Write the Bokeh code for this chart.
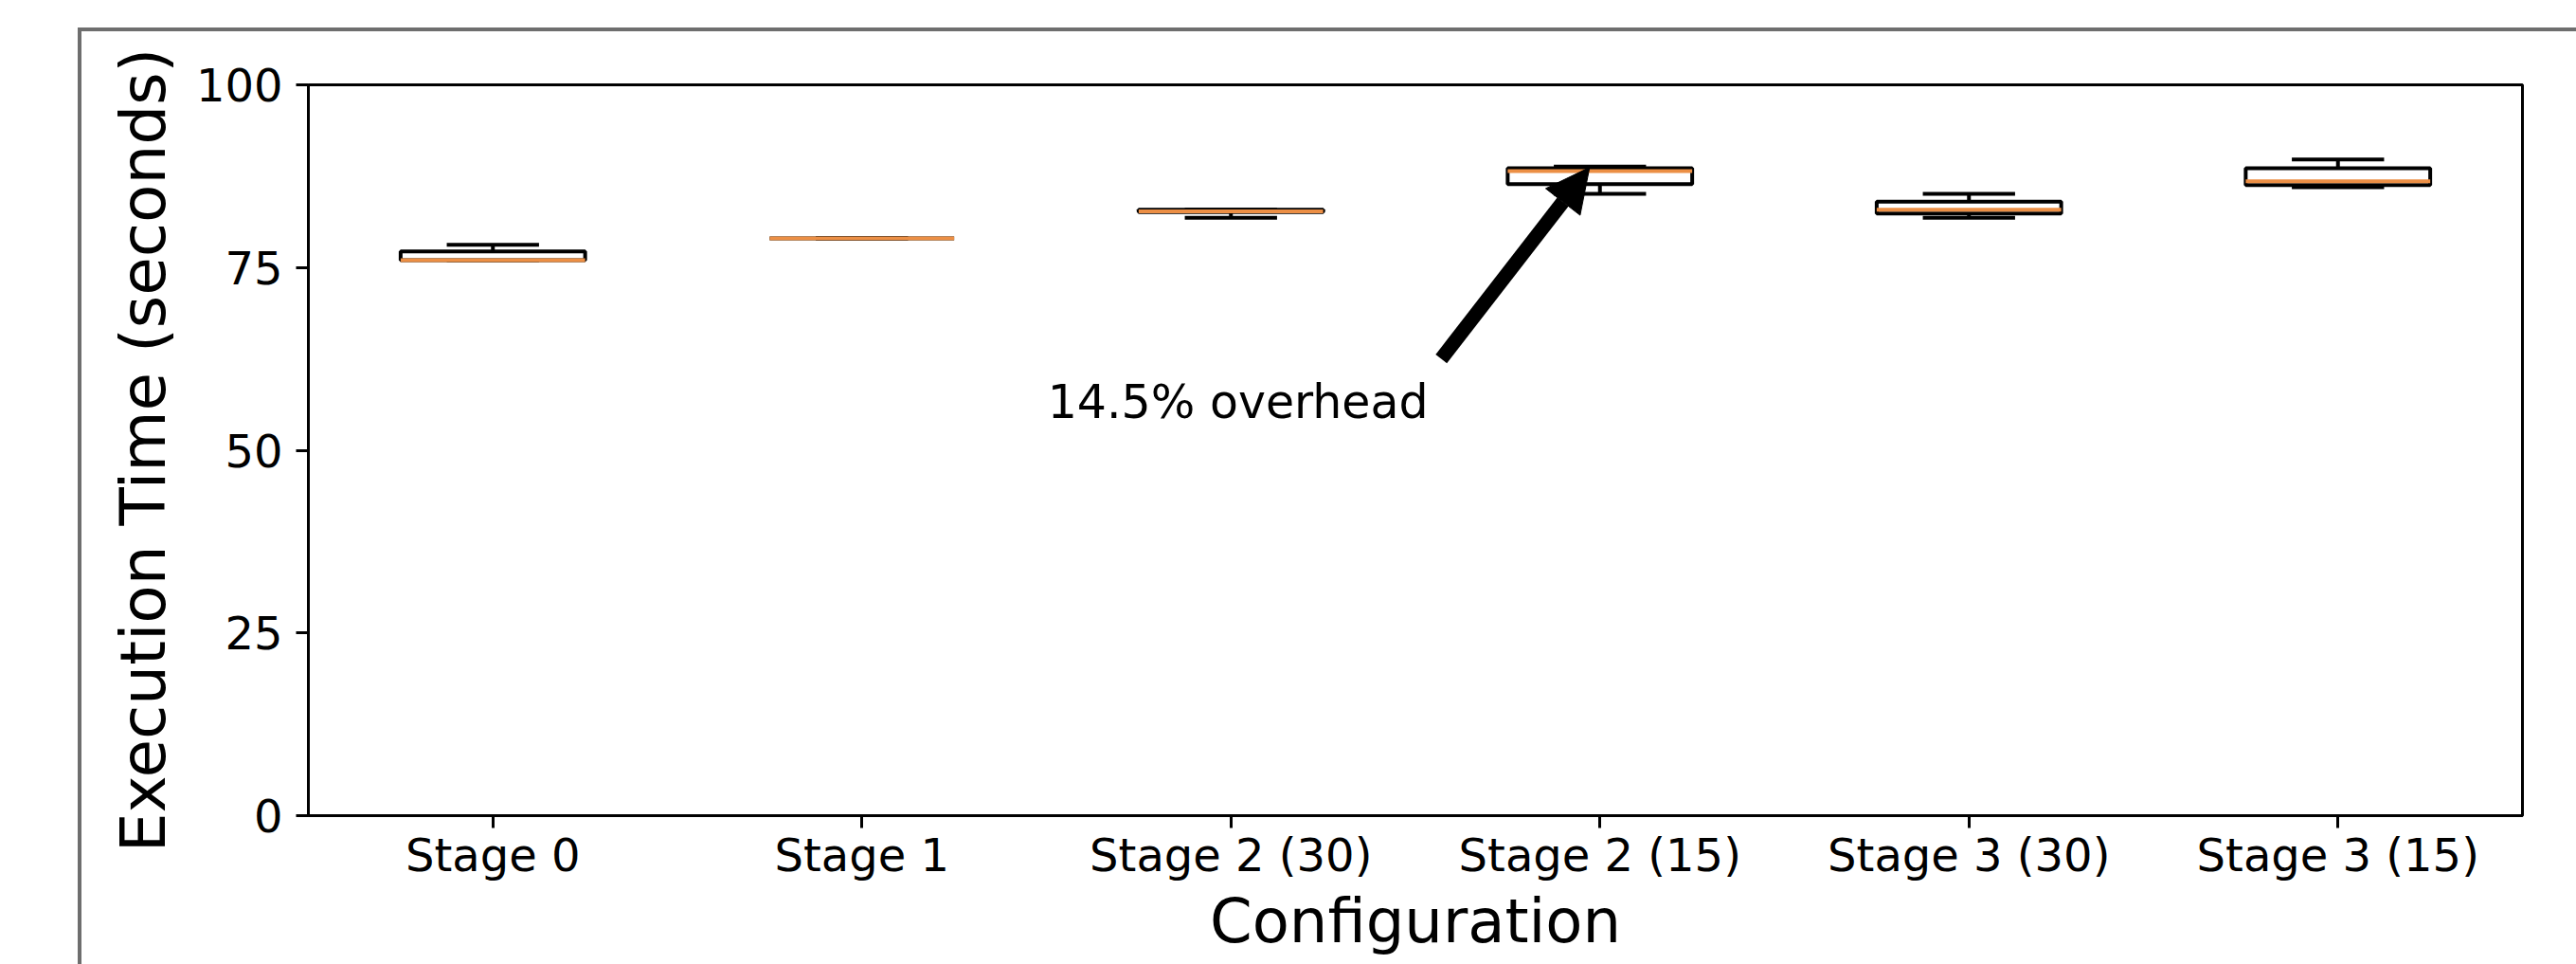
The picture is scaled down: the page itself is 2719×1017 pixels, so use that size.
from bokeh.plotting import figure
from bokeh.models import (Range1d, FixedTicker, Arrow, NormalHead, Label, ColumnDataSource,
                          InlineStyleSheet)
from bokeh.embed import file_html
from bokeh.resources import INLINE

# ---- data ----
categories = ["Stage 0", "Stage 1", "Stage 2 (30)", "Stage 2 (15)", "Stage 3 (30)", "Stage 3 (15)"]
whisker_low = [76.0, 79.0, 81.8, 85.1, 81.8, 86.0]
q1 = [76.0, 79.0, 82.6, 86.4, 82.4, 86.3]
median = [76.0, 79.0, 82.7, 88.2, 82.9, 86.8]
q3 = [77.2, 79.0, 82.9, 88.6, 84.0, 88.6]
whisker_high = [78.1, 79.0, 82.9, 88.8, 85.1, 89.8]
y_ticks = [0, 25, 50, 75, 100]
annotation_text = "14.5% overhead"
arrow_tail = (3.57, 62.5)
arrow_tip = (3.972, 88.7)
annotation_pos = (2.503, 56.6)

FONT = "DejaVu Sans"
positions = list(range(1, len(categories) + 1))
box_w = 0.5
cap_w = 0.25

src = ColumnDataSource(dict(
    x=positions, lo=whisker_low, q1=q1, med=median, q3=q3, hi=whisker_high,
    cap_l=[p - cap_w / 2 for p in positions], cap_r=[p + cap_w / 2 for p in positions],
    box_l=[p - box_w / 2 for p in positions], box_r=[p + box_w / 2 for p in positions],
))

p = figure(width=2719, height=1017, output_backend="svg", toolbar_location=None,
           x_range=Range1d(0.5, 6.5), y_range=Range1d(0, 100),
           min_border_left=325, min_border_right=57, min_border_top=89, min_border_bottom=157)
p.background_fill_color = "white"
p.border_fill_color = "white"
p.outline_line_color = "black"
p.outline_line_width = 3
p.xgrid.visible = False
p.ygrid.visible = False

# whiskers
p.segment(x0="x", y0="q3", x1="x", y1="hi", source=src, line_color="black", line_width=4)
p.segment(x0="x", y0="q1", x1="x", y1="lo", source=src, line_color="black", line_width=4)
# caps
p.segment(x0="cap_l", y0="hi", x1="cap_r", y1="hi", source=src, line_color="black", line_width=4)
p.segment(x0="cap_l", y0="lo", x1="cap_r", y1="lo", source=src, line_color="black", line_width=4)
# boxes
p.quad(left="box_l", right="box_r", bottom="q1", top="q3", source=src,
       fill_color="white", line_color="black", line_width=4)
# medians
p.segment(x0="box_l", y0="med", x1="box_r", y1="med", source=src, line_color="#ec8f45", line_width=4)

# axes
for ax in (p.xaxis[0], p.yaxis[0]):
    ax.axis_line_color = "black"
    ax.axis_line_width = 3
    ax.major_tick_line_color = "black"
    ax.major_tick_line_width = 3
    ax.major_tick_out = 13
    ax.major_tick_in = 0
    ax.minor_tick_line_color = None
    ax.major_label_text_font = FONT
    ax.major_label_text_font_size = "48px"
    ax.major_label_text_color = "black"
    ax.axis_label_text_font = FONT
    ax.axis_label_text_font_size = "64px"
    ax.axis_label_text_font_style = "normal"
    ax.axis_label_text_color = "black"

p.xaxis.ticker = FixedTicker(ticks=positions)
p.xaxis.major_label_overrides = {pos: c for pos, c in zip(positions, categories)}
p.xaxis.axis_label = "Configuration"
p.xaxis.major_label_standoff = 0
p.xaxis.axis_label_standoff = 2

p.yaxis.ticker = FixedTicker(ticks=y_ticks)
p.yaxis.axis_label = "Execution Time (seconds)"
p.yaxis.axis_label_text_font_size = "66px"
p.yaxis.major_label_standoff = 14
p.yaxis.axis_label_standoff = 14

# annotation
p.add_layout(Arrow(x_start=arrow_tail[0], y_start=arrow_tail[1], x_end=arrow_tip[0], y_end=arrow_tip[1],
                   line_color="black", line_width=15, line_cap="butt",
                   end=NormalHead(size=46, fill_color="black", line_color="black", line_width=1)))
p.add_layout(Label(x=annotation_pos[0], y=annotation_pos[1], text=annotation_text,
                   text_font=FONT, text_font_size="49px", text_color="black",
                   text_baseline="alphabetic", text_align="left"))

# outer gray frame of the original (screenshot) figure: left and top edges
p.stylesheets = [InlineStyleSheet(css="""
:host { position: relative; }
:host::after {
  content: "";
  position: absolute;
  left: 82px; top: 29px; right: 0px; bottom: 0px;
  border-left: 4px solid #6e6e6e;
  border-top: 4px solid #6e6e6e;
  pointer-events: none;
  z-index: 10;
}
""")]

open("out.html", "w").write(file_html(p, INLINE))
